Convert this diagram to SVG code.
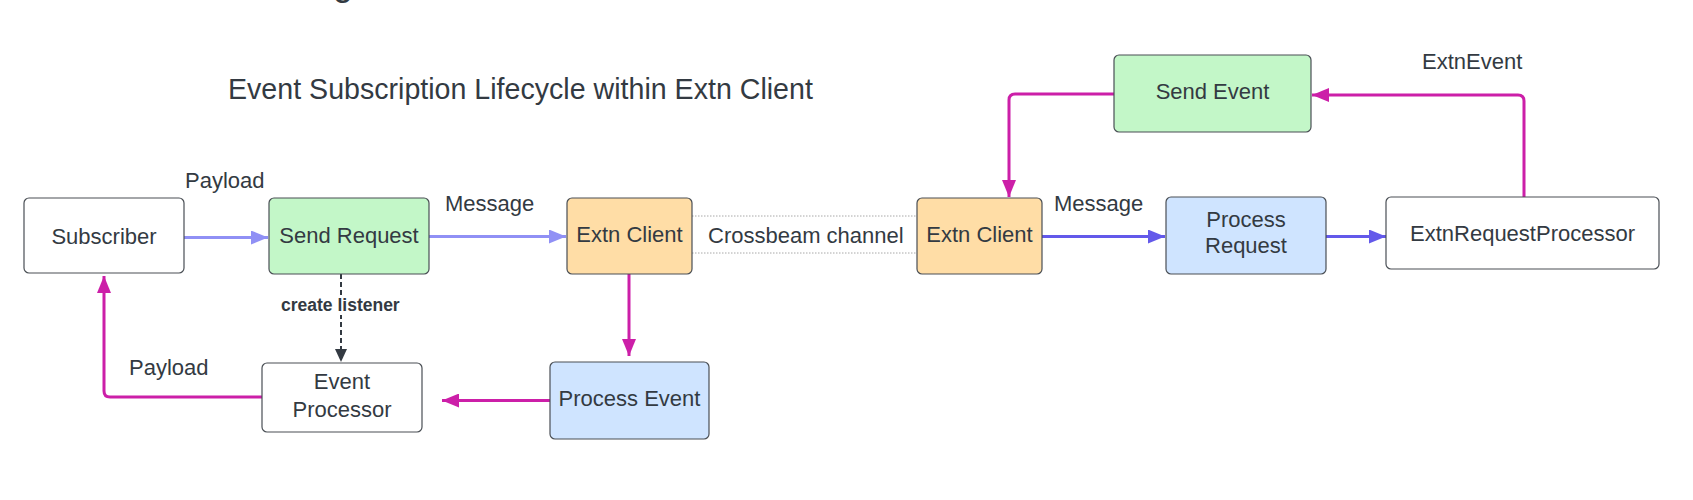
<svg xmlns="http://www.w3.org/2000/svg" width="1693" height="500" viewBox="0 0 1693 500">
<style>
text{font-family:"Liberation Sans",Arial,sans-serif;fill:#333a42;font-size:22px}
.n{text-anchor:middle}
.box{stroke:#4a4f55;stroke-width:1.2}
.w{fill:#ffffff}.g{fill:#c3f7c8}.o{fill:#ffdda6}.b{fill:#cfe4ff}
.m{fill:none;stroke:#cc1fa8;stroke-width:3}
.lp{fill:none;stroke:#9090f5;stroke-width:3}
.dp{fill:none;stroke:#6359ea;stroke-width:3}
.dash{fill:none;stroke:#333a42;stroke-width:2;stroke-dasharray:5 3}
.dot{fill:none;stroke:#a8a8a8;stroke-width:1;stroke-dasharray:1.5 1.5}
</style>
<defs>
<marker id="am" markerUnits="userSpaceOnUse" markerWidth="18" markerHeight="14" refX="17" refY="7" orient="auto"><path d="M0,0 L17,7 L0,14 Z" fill="#cc1fa8"/></marker>
<marker id="alp" markerUnits="userSpaceOnUse" markerWidth="18" markerHeight="14" refX="17" refY="7" orient="auto"><path d="M0,0 L17,7 L0,14 Z" fill="#9090f5"/></marker>
<marker id="adp" markerUnits="userSpaceOnUse" markerWidth="18" markerHeight="14" refX="17" refY="7" orient="auto"><path d="M0,0 L17,7 L0,14 Z" fill="#6359ea"/></marker>
<marker id="ad" markerUnits="userSpaceOnUse" markerWidth="14" markerHeight="12" refX="13" refY="6" orient="auto"><path d="M0,0 L13,6 L0,12 Z" fill="#333a42"/></marker>
</defs>
<text x="333" y="-5" style="font-size:36px">g</text>
<text x="228" y="99" style="font-size:28.6px">Event Subscription Lifecycle within Extn Client</text>
<g id="connectors">
<line class="dot" x1="692" y1="216" x2="917" y2="216"/>
<line class="dot" x1="692" y1="253" x2="917" y2="253"/>
<path class="lp" d="M184,237.5 H268" marker-end="url(#alp)"/>
<path class="lp" d="M429,236.5 H566" marker-end="url(#alp)"/>
<path class="dp" d="M1042,236.5 H1165" marker-end="url(#adp)"/>
<path class="dp" d="M1326,236.5 H1386" marker-end="url(#adp)"/>
<path class="m" d="M1524,197 V101 Q1524,95 1518,95 H1312" marker-end="url(#am)"/>
<path class="m" d="M1114,94 H1015 Q1009,94 1009,100 V197" marker-end="url(#am)"/>
<path class="m" d="M629,274 V356" marker-end="url(#am)"/>
<path class="m" d="M550,400.5 H442" marker-end="url(#am)"/>
<path class="m" d="M262,397 H110 Q104,397 104,391 V276" marker-end="url(#am)"/>
<path class="dash" d="M341,274 V362" marker-end="url(#ad)"/>
<rect x="280" y="295" width="122" height="20" fill="#ffffff"/>
<text x="281" y="311" style="font-size:17.5px;font-weight:bold">create listener</text>
<text x="185" y="188">Payload</text>
<text x="445" y="211">Message</text>
<text x="1054" y="211">Message</text>
<text x="1422" y="69">ExtnEvent</text>
<text x="129" y="375">Payload</text>
<text x="708" y="243">Crossbeam channel</text>
</g>
<g id="subscriber"><rect class="box w" x="24" y="198" width="160" height="75" rx="5"/><text class="n" x="104" y="244">Subscriber</text></g>
<g id="send-request"><rect class="box g" x="269" y="198" width="160" height="76" rx="5"/><text class="n" x="349" y="243">Send Request</text></g>
<g id="extn-client-1"><rect class="box o" x="567" y="198" width="125" height="76" rx="5"/><text class="n" x="629.5" y="242">Extn Client</text></g>
<g id="extn-client-2"><rect class="box o" x="917" y="198" width="125" height="76" rx="5"/><text class="n" x="979.5" y="242">Extn Client</text></g>
<g id="process-request"><rect class="box b" x="1166" y="197" width="160" height="77" rx="5"/><text class="n" x="1246" y="226.5">Process</text><text class="n" x="1246" y="253">Request</text></g>
<g id="extn-request-processor"><rect class="box w" x="1386" y="197" width="273" height="72" rx="5"/><text class="n" x="1522.5" y="240.5">ExtnRequestProcessor</text></g>
<g id="send-event"><rect class="box g" x="1114" y="55" width="197" height="77" rx="5"/><text class="n" x="1212.5" y="99">Send Event</text></g>
<g id="event-processor"><rect class="box w" x="262" y="363" width="160" height="69" rx="5"/><text class="n" x="342" y="389">Event</text><text class="n" x="342" y="416.5">Processor</text></g>
<g id="process-event"><rect class="box b" x="550" y="362" width="159" height="77" rx="5"/><text class="n" x="629.5" y="406">Process Event</text></g>
</svg>
